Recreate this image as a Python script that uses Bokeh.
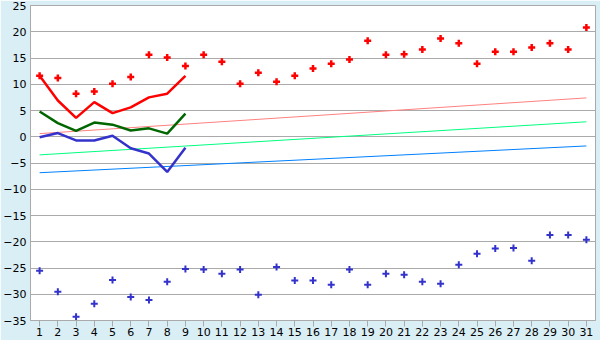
from bokeh.plotting import figure
from bokeh.models import FixedTicker, Range1d
from bokeh.embed import file_html
from bokeh.resources import INLINE

days = list(range(1, 32))
max_points = [11.6, 11.2, 8.2, 8.6, 10.1, 11.4, 15.6, 15.1, 13.5, 15.6, 14.3, 10.1, 12.2, 10.5, 11.6,
              13.0, 13.9, 14.7, 18.3, 15.6, 15.7, 16.6, 18.7, 17.8, 13.9, 16.2, 16.2, 17.0, 17.8, 16.6, 20.8]
min_points = [-25.5, -29.5, -34.3, -31.8, -27.3, -30.5, -31.1, -27.6, -25.2, -25.3, -26.1, -25.3, -30.1,
              -24.8, -27.4, -27.4, -28.2, -25.3, -28.2, -26.1, -26.3, -27.6, -28.0, -24.4, -22.3, -21.3,
              -21.2, -23.6, -18.7, -18.7, -19.6]

line_days = list(range(1, 10))
red_line = [11.6, 6.9, 3.6, 6.6, 4.5, 5.6, 7.5, 8.2, 11.6]
green_line = [4.8, 2.6, 1.1, 2.7, 2.3, 1.2, 1.6, 0.6, 4.4]
blue_line = [-0.1, 0.7, -0.7, -0.7, 0.2, -2.2, -3.2, -6.7, -2.1]

trend_days = [1, 31]
trend_pink = [0.6, 7.4]
trend_green = [-3.45, 2.85]
trend_blue = [-6.85, -1.75]

y_ticks = [-35, -30, -25, -20, -15, -10, -5, 0, 5, 10, 15, 20, 25]

p = figure(width=600, height=340, output_backend="svg", toolbar_location=None,
           x_range=Range1d(0.5, 31.5), y_range=Range1d(-35, 25),
           min_border_left=26, min_border_right=5, min_border_top=5, min_border_bottom=20)
p.border_fill_color = "#daeef5"
p.background_fill_color = "white"
p.outline_line_color = "#aaaaaa"
p.outline_line_width = 1

p.xgrid.grid_line_color = None
p.ygrid.grid_line_color = "#aaaaaa"
p.ygrid.grid_line_width = 1
p.ygrid.ticker = FixedTicker(ticks=y_ticks)

p.xaxis.ticker = FixedTicker(ticks=days)
p.yaxis.ticker = FixedTicker(ticks=y_ticks)
for ax in (p.xaxis, p.yaxis):
    ax.axis_line_color = "#aaaaaa"
    ax.major_tick_line_color = "#aaaaaa"
    ax.minor_tick_line_color = None
    ax.major_tick_in = 0
    ax.major_label_text_font = "DejaVu Sans"
    ax.major_label_text_font_size = "11px"
    ax.major_label_text_color = "black"
p.xaxis.major_tick_out = 6
p.xaxis.major_label_standoff = 1
p.yaxis.major_tick_out = 0
p.yaxis.major_label_standoff = 4

p.line(trend_days, trend_pink, line_color="#ff8080", line_width=1)
p.line(trend_days, trend_green, line_color="#00ff80", line_width=1)
p.line(trend_days, trend_blue, line_color="#0080ff", line_width=1)

p.line(line_days, red_line, line_color="#ff0000", line_width=2.5)
p.line(line_days, green_line, line_color="#006600", line_width=2.5)
p.line(line_days, blue_line, line_color="#3333cc", line_width=2.5)

p.scatter(days, max_points, marker="cross", size=7, line_color="#ff0000", line_width=2.5)
p.scatter(days, min_points, marker="cross", size=7, line_color="#3333cc", line_width=2)

open("out.html", "w").write(file_html(p, INLINE))
